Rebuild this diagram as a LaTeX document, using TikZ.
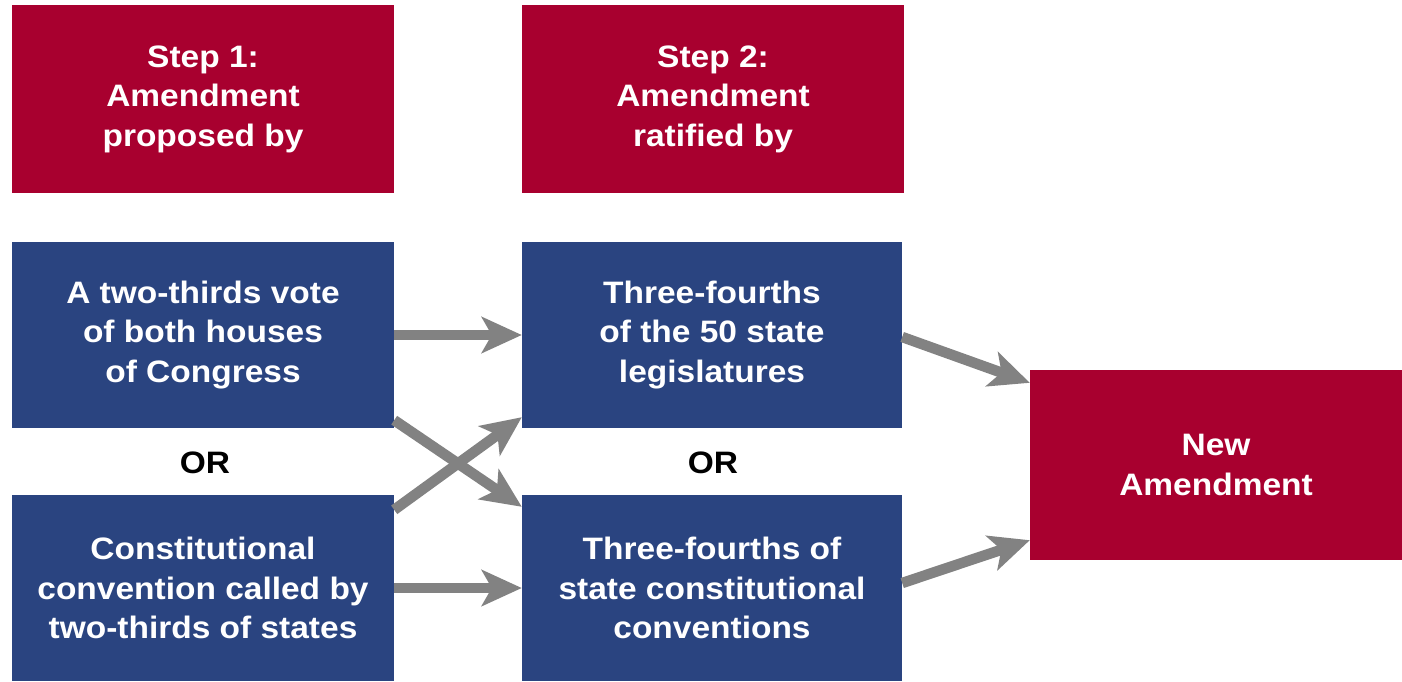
\documentclass[tikz,border=0pt]{standalone}
\usepackage{fontspec}
\setmainfont{Liberation Sans}
\newfontfamily\boxfont[FakeStretch=1.08]{Liberation Sans}
\usetikzlibrary{arrows.meta}
\definecolor{stepred}{HTML}{A8002F}
\definecolor{boxblue}{HTML}{2A4480}
\definecolor{arrowgray}{HTML}{828282}
\tikzset{
  box/.style={rectangle, inner sep=0pt, align=center, text=white,
    font=\boxfont\bfseries\fontsize{31}{39.5}\selectfont},
  redbox/.style={box, fill=stepred},
  bluebox/.style={box, fill=boxblue},
  orlabel/.style={font=\boxfont\bfseries\fontsize{31}{32}\selectfont, text=black},
  flow/.style={draw=arrowgray, line width=10.5pt,
    -{Stealth[length=40pt,width=36pt,inset=10pt]}}
}
\begin{document}
\begin{tikzpicture}[x=1pt,y=-1pt]
\useasboundingbox (0,0) rectangle (1402,681);
\fill[white] (0,0) rectangle (1402,681);
\node[redbox, minimum width=382pt, minimum height=188pt] (s1) at (203,99) {Step 1:\\Amendment\\proposed by};
\node[redbox, minimum width=382pt, minimum height=188pt] (s2) at (713,99) {Step 2:\\Amendment\\ratified by};
\node[bluebox, minimum width=382pt, minimum height=186pt] (a) at (203,335) {A two-thirds vote\\of both houses\\of Congress};
\node[bluebox, minimum width=382pt, minimum height=186pt] (b) at (203,588) {Constitutional\\convention called by\\two-thirds of states};
\node[bluebox, minimum width=380pt, minimum height=186pt] (c) at (712,335) {Three-fourths\\of the 50 state\\legislatures};
\node[bluebox, minimum width=380pt, minimum height=186pt] (d) at (712,588) {Three-fourths of\\state constitutional\\conventions};
\node[redbox, minimum width=372pt, minimum height=190pt] (n) at (1216,465) {New\\Amendment};
\node[orlabel] (or1) at (205,463) {OR};
\node[orlabel] (or2) at (713,463) {OR};
\draw[flow] (a.east) -- (c.west);
\draw[flow] (b.east) -- (d.west);
\draw[flow] ([yshift=8pt]a.south east) -- ([yshift=-12pt]d.north west);
\draw[flow] ([yshift=-15pt]b.north east) -- ([yshift=11pt]c.south west);
\draw[flow] ([yshift=-2pt]c.east) -- ([yshift=-13pt]n.north west);
\draw[flow] ([yshift=5pt]d.east) -- ([yshift=20pt]n.south west);
\end{tikzpicture}
\end{document}
